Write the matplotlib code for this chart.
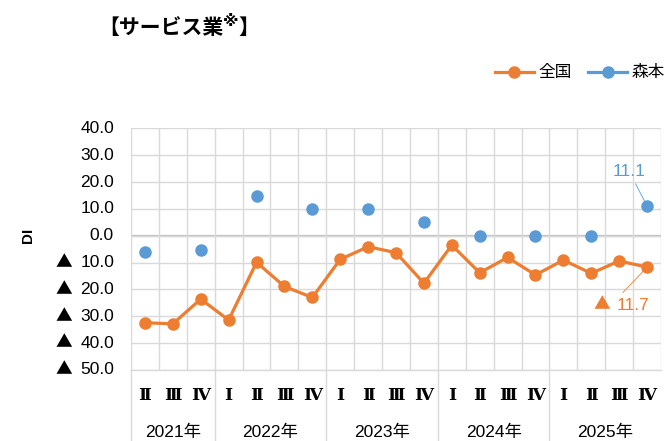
import numpy as np
import matplotlib
matplotlib.use("Agg")
import matplotlib.pyplot as plt
from matplotlib.lines import Line2D
import matplotlib.transforms as mtrans

# ---- data ----
quarters = ['Ⅱ', 'Ⅲ', 'Ⅳ',
            'Ⅰ', 'Ⅱ', 'Ⅲ', 'Ⅳ',
            'Ⅰ', 'Ⅱ', 'Ⅲ', 'Ⅳ',
            'Ⅰ', 'Ⅱ', 'Ⅲ', 'Ⅳ',
            'Ⅰ', 'Ⅱ', 'Ⅲ', 'Ⅳ']
years = ['2021年', '2022年', '2023年', '2024年', '2025年']
year_counts = [3, 4, 4, 4, 4]
nan = np.nan
national = [-32.4, -32.8, -23.6, -31.4, -9.9, -18.9, -23.0, -8.8, -4.1, -6.3,
            -17.7, -3.5, -13.8, -8.1, -14.6, -9.1, -14.0, -9.4, -11.7]
morimoto = [-5.9, nan, -5.3, nan, 14.9, nan, 10.0, nan, 10.0, nan,
            5.0, nan, 0.0, nan, 0.0, nan, 0.0, nan, 11.1]
series_names = ['全国', '森本']
yticks = [40, 30, 20, 10, 0, -10, -20, -30, -40, -50]

ORANGE = '#ED7D31'
BLUE = '#5B9BD5'
GRID = '#d9d9d9'
LATIN = ['Liberation Sans', 'Noto Sans CJK JP', 'DejaVu Sans']
CJK = ['Noto Sans CJK JP', 'DejaVu Sans']

W, H = 665, 441
fig = plt.figure(figsize=(W / 100, H / 100), dpi=100)
L, R, T, B = 131, 661, 128.3, 370
ax = fig.add_axes([L / W, 1 - B / H, (R - L) / W, (B - T) / H])

n = len(quarters)
x = np.arange(n)
ax.set_xlim(-0.5, n - 0.5)
ax.set_ylim(-50, 40)

# grid
ax.set_xticks(np.arange(n + 1) - 0.5, minor=True)
ax.set_xticks([])
ax.set_yticks(yticks)
ax.grid(True, which='minor', axis='x', color=GRID, lw=1.0, zorder=0)
ax.grid(True, which='major', axis='y', color=GRID, lw=1.0, zorder=0)
ax.tick_params(which='both', length=0)
ax.set_yticklabels([])
for s in ax.spines.values():
    s.set_visible(False)
ax.axhline(0, color='#bfbfbf', lw=1.6, zorder=1)

# y tick labels: number (Arial-like) with a full-width ▲ for negatives
ytrans = mtrans.blended_transform_factory(ax.transAxes, ax.transData)
num_x = -17 / (R - L)
tri_x = -(131 - 64) / (R - L)
for v in yticks:
    ax.text(num_x, v, '%.1f' % abs(v), transform=ytrans, ha='right', va='center',
            fontsize=12.5, family=LATIN, clip_on=False)
    if v < 0:
        ax.text(tri_x, v, '▲', transform=ytrans, ha='center', va='center',
                fontsize=12, family=CJK, clip_on=False)

# series
ax.plot(x, national, '-o', color=ORANGE, lw=2.3, ms=8, label=series_names[0], zorder=3)
ax.plot(x, morimoto, '-o', color=BLUE, lw=2.3, ms=8, label=series_names[1], zorder=3)

# data labels
ax.annotate('11.1', xy=(x[-1], morimoto[-1]), xytext=(17.35, 24.1),
            color=BLUE, fontsize=12.5, family=LATIN, ha='center', va='center',
            arrowprops=dict(arrowstyle='-', color=BLUE, lw=0.6, shrinkA=2, shrinkB=4))
ax.annotate('', xy=(x[-1], national[-1]), xytext=(17.13, -21.2),
            arrowprops=dict(arrowstyle='-', color=ORANGE, lw=0.6, shrinkA=0, shrinkB=4))
ax.text(16.38, -25.8, '▲', color=ORANGE, fontsize=12, family=CJK,
        ha='center', va='center')
ax.text(17.49, -25.8, '%.1f' % abs(national[-1]), color=ORANGE, fontsize=12.5,
        family=LATIN, ha='center', va='center')

# category axis labels
trans = mtrans.blended_transform_factory(ax.transData, ax.transAxes)
for i, q in enumerate(quarters):
    ax.text(i, -0.106, q, transform=trans, ha='center', va='center',
            fontsize=12.5, fontweight='bold',
            family=['DejaVu Serif', 'Noto Sans CJK JP'], clip_on=False)
start = 0
bottom_ax = -(H - B) / (B - T)
bounds = [-0.5]
for yr, c in zip(years, year_counts):
    ax.text(start + (c - 1) / 2, -0.257, yr, transform=trans, ha='center', va='center',
            fontsize=12.5, family=LATIN, clip_on=False)
    start += c
    bounds.append(start - 0.5)
for b in bounds[:-1]:
    ax.add_line(Line2D([b, b], [0, bottom_ax], transform=trans, color=GRID,
                       lw=1.0, clip_on=False))
ax.add_line(Line2D([-0.5, n - 0.5], [0, 0], transform=trans, color=GRID,
                   lw=1.0, clip_on=False))

# y label
fig.text(28 / W, 1 - 235 / H, 'DI', rotation=90, fontsize=11, fontweight='bold',
         family=LATIN, ha='center', va='center')

# legend
leg = fig.legend(loc='center right', bbox_to_anchor=(1.0, 1 - 73 / H), ncol=2,
                 frameon=False, prop=dict(family=CJK, size=12),
                 handlelength=2.3, handletextpad=0.3, columnspacing=1.0,
                 borderpad=0, borderaxespad=0)

# title with superscript mark
fig.canvas.draw()
r = fig.canvas.get_renderer()
ty = 1 - 27 / H
t1 = fig.text(98 / W, ty, '【サービス業', fontsize=15, fontweight='bold',
              family=CJK, ha='left', va='center')
bb = t1.get_window_extent(r)
t2 = fig.text(bb.x1 / W, ty + 6 / H, '※', fontsize=11.5, fontweight='bold',
              family=['DejaVu Sans', 'Noto Sans CJK JP'], ha='left', va='center')
bb2 = t2.get_window_extent(r)
fig.text(bb2.x1 / W, ty, '】', fontsize=15, fontweight='bold',
         family=CJK, ha='left', va='center')

fig.savefig('out.png', dpi=100)
